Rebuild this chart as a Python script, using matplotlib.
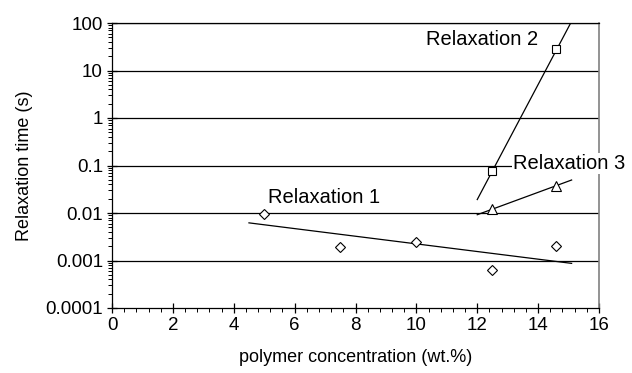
import numpy as np
import matplotlib
matplotlib.use("Agg")
import matplotlib.pyplot as plt
from matplotlib.ticker import MultipleLocator, LogLocator, NullFormatter, FixedLocator

plt.rcParams["font.family"] = ["Liberation Sans", "DejaVu Sans"]

# data
r1_x = [5.0, 7.5, 10.0, 12.5, 14.6]
r1_y = [0.0095, 0.0019, 0.0024, 0.00062, 0.0020]
r2_x = [12.5, 14.6]
r2_y = [0.076, 27.7]
r3_x = [12.5, 14.6]
r3_y = [0.012, 0.0376]

# fit lines (end points)
fit1_x = [4.5, 15.1]
fit1_y = [0.0062, 0.00087]
fit2_x = [12.0, 15.07]
fit2_y = [0.0192, 100.0]
fit3_x = [12.0, 15.1]
fit3_y = [0.0092, 0.0495]

yticks = [0.0001, 0.001, 0.01, 0.1, 1, 10, 100]
ylabels = ["0.0001", "0.001", "0.01", "0.1", "1", "10", "100"]

fig = plt.figure(figsize=(6.32, 3.73), dpi=100)
ax = fig.add_axes([112/632, 1 - 308/373, (599-112)/632, (308-23)/373])
ax.set_yscale("log")
ax.set_xlim(0, 16)
ax.set_ylim(0.0001, 100)

for yv in yticks[1:]:
    ax.axhline(yv, color="black", lw=0.9, zorder=1)

ax.plot(fit1_x, fit1_y, color="black", lw=0.9, zorder=2)
ax.plot(fit2_x, fit2_y, color="black", lw=0.9, zorder=2)
ax.plot(fit3_x, fit3_y, color="black", lw=0.9, zorder=2)

mk = dict(ls="none", mfc="white", mec="black", mew=0.8, zorder=3)
ax.plot(r1_x, r1_y, marker="D", ms=5, **mk)
ax.plot(r2_x, r2_y, marker="s", ms=6, **mk)
ax.plot(r3_x, r3_y, marker="^", ms=6.5, **mk)

fs_ann = 14.5
ax.text(10.3, 45, "Relaxation 2", fontsize=fs_ann, va="center", ha="left", zorder=4)
ax.text(13.17, 0.11, "Relaxation 3", fontsize=fs_ann, va="center", ha="left", zorder=5,
        clip_on=False, bbox=dict(facecolor="white", edgecolor="none", pad=0.5))
ax.text(5.12, 0.0217, "Relaxation 1", fontsize=fs_ann, va="center", ha="left", zorder=4)

ax.xaxis.set_major_locator(MultipleLocator(2))
ax.xaxis.set_minor_locator(MultipleLocator(0.4))
ax.yaxis.set_major_locator(FixedLocator(yticks))
ax.set_yticklabels(ylabels)
ax.yaxis.set_minor_locator(LogLocator(base=10, subs=np.arange(2, 10), numticks=20))
ax.yaxis.set_minor_formatter(NullFormatter())
ax.tick_params(which="major", direction="inout", length=7, width=0.9, labelsize=13.5, pad=3)
ax.tick_params(which="minor", direction="out", length=3, width=0.7)

for s in ["left", "bottom", "top"]:
    ax.spines[s].set_color("black")
    ax.spines[s].set_linewidth(0.9)
ax.spines["right"].set_color("#808080")
ax.spines["right"].set_linewidth(1.2)

ax.set_xlabel("polymer concentration (wt.%)", fontsize=13, labelpad=11)
ax.set_ylabel("Relaxation time (s)", fontsize=13, labelpad=9)

fig.savefig("out.png", dpi=100)
